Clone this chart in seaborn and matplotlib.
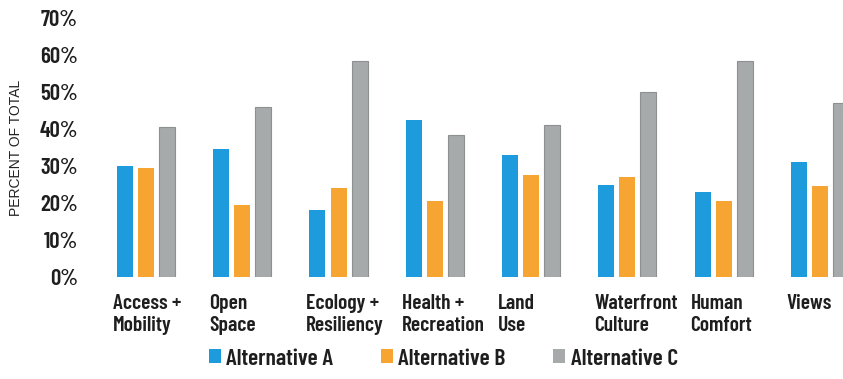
import matplotlib
matplotlib.use("Agg")
import matplotlib.pyplot as plt
import matplotlib.transforms as mtransforms
import seaborn as sns
import pandas as pd

categories = ["Access +\nMobility", "Open\nSpace", "Ecology +\nResiliency", "Health +\nRecreation",
              "Land\nUse", "Waterfront\nCulture", "Human\nComfort", "Views"]
alt_a = [30, 34.5, 18, 42.5, 33, 25, 23, 31]
alt_b = [29.5, 19.5, 24, 20.5, 27.5, 27, 20.5, 24.5]
alt_c = [40.5, 46, 58.5, 38.5, 41, 50, 58.5, 47]
series = ["Alternative A", "Alternative B", "Alternative C"]
colors = ["#1e9bdc", "#f6a533", "#a6aaab"]
yticks = [0, 10, 20, 30, 40, 50, 60, 70]

rows = []
for name, vals in zip(series, [alt_a, alt_b, alt_c]):
    for c, v in zip(categories, vals):
        rows.append({"cat": c, "alt": name, "val": v})
df = pd.DataFrame(rows)

sns.set_theme(style="white")
cond = ["Barlow Condensed", "DejaVu Sans"]
plt.rcParams["font.family"] = cond

fig = plt.figure(figsize=(8.43, 3.79), dpi=100)
ax = fig.add_axes([93 / 843, 1 - 277 / 379, 750 / 843, 259 / 379])

sns.barplot(data=df, x="cat", y="val", hue="alt", palette=colors, order=categories,
            hue_order=series, width=0.656, gap=0.24, saturation=1, ax=ax, linewidth=0)
for p in ax.containers[2]:
    p.set_edgecolor("#8c9091")
    p.set_linewidth(0.8)

ax.set_xlim(-0.55, 7.24)
ax.set_ylim(0, 70)
ax.set_yticks(yticks)
ax.set_yticklabels([f"{t}%" for t in yticks], fontsize=16.5, fontweight=600, color="#1e1e1e")
ax.tick_params(axis="y", length=0, pad=11)
ax.tick_params(axis="x", length=0, pad=12)
ax.set_xticks(range(len(categories)))
ax.set_xticklabels(categories, fontsize=15.5, fontweight=600, color="#1e1e1e", ha="left",
                   va="top", linespacing=1.2)
offset = mtransforms.ScaledTranslation(-33 / 100, 0, fig.dpi_scale_trans)
for lbl in ax.get_xticklabels():
    lbl.set_transform(lbl.get_transform() + offset)

ax.set_xlabel("")
ax.set_ylabel("PERCENT OF TOTAL", fontsize=10, family="Liberation Sans", color="#222222", labelpad=12)
for s in ax.spines.values():
    s.set_visible(False)

sns.move_legend(ax, "center", bbox_to_anchor=(0.467, -0.315), ncol=3, frameon=False, title=None,
                handlelength=0.5, handleheight=0.5, handletextpad=0.25, columnspacing=2.0,
                prop={"family": cond, "weight": 600, "size": 17})
for t in ax.get_legend().get_texts():
    t.set_color("#1e1e1e")

fig.savefig("out.png", dpi=100)
